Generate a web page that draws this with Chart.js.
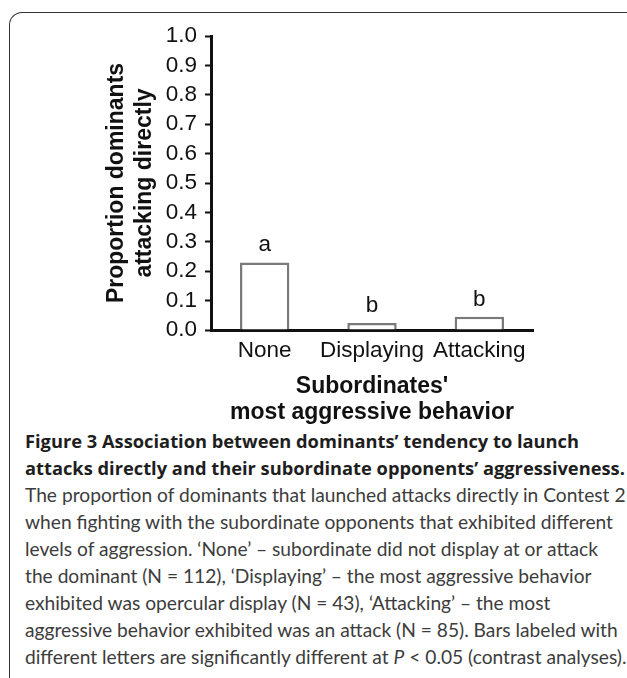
<!DOCTYPE html>
<html>
<head>
<meta charset="utf-8">
<script src="https://cdn.jsdelivr.net/npm/chart.js@4.4.1/dist/chart.umd.min.js"></script>
<style>
  html, body { margin: 0; padding: 0; background: #fff; overflow: hidden; }
  body { width: 627px; height: 678px; position: relative; }
  #frame {
    position: absolute; left: 9px; top: 12px; width: 640px; height: 700px;
    border-left: 1.5px solid #333; border-top: 1.5px solid #333;
    border-top-left-radius: 13px; box-sizing: border-box;
  }
  #chartBox { position: absolute; left: 0; top: 0; width: 627px; height: 425px; }
  #caption {
    position: absolute; left: 25px; top: 427px;
    font-family: Lato, "Open Sans", sans-serif; font-size: 19.2px; line-height: 27px;
    color: #3c3c3c; white-space: nowrap;
  }
  #caption b { color: #1e1e1e; font-family: "Open Sans", Lato, sans-serif; font-size: 18.3px; font-weight: 700; }
</style>
</head>
<body>
<div id="frame"></div>
<div id="chartBox"><canvas id="myChart"></canvas></div>
<div id="caption">
  <div><b>Figure 3 Association between dominants’ tendency to launch</b></div>
  <div><b>attacks directly and their subordinate opponents’ aggressiveness.</b></div>
  <div>The proportion of dominants that launched attacks directly in Contest 2</div>
  <div>when fighting with the subordinate opponents that exhibited different</div>
  <div>levels of aggression. ‘None’ – subordinate did not display at or attack</div>
  <div>the dominant (N = 112), ‘Displaying’ – the most aggressive behavior</div>
  <div>exhibited was opercular display (N = 43), ‘Attacking’ – the most</div>
  <div>aggressive behavior exhibited was an attack (N = 85). Bars labeled with</div>
  <div>different letters are significantly different at <i>P</i> &lt; 0.05 (contrast analyses).</div>
</div>
<script>
const categories = ['None', 'Displaying', 'Attacking'];
const proportions = [0.23, 0.024, 0.045];
const letters = ['a', 'b', 'b'];

const letterPlugin = {
    id: 'letters',
    afterDatasetsDraw(chart) {
        const ctx = chart.ctx;
        const meta = chart.getDatasetMeta(0);
        ctx.save();
        ctx.font = '22.5px "Liberation Sans", Arial, sans-serif';
        ctx.fillStyle = '#111';
        ctx.textAlign = 'center';
        ctx.textBaseline = 'alphabetic';
        meta.data.forEach((bar, i) => {
            ctx.fillText(letters[i], bar.x, bar.y - 11);
        });
        ctx.restore();
    }
};

let ctx = document.getElementById('myChart');
const myChart = new Chart(ctx, {
    type: 'bar',
    data: {
        labels: categories,
        datasets: [{
            data: proportions,
            backgroundColor: '#ffffff',
            borderColor: '#7a7a7a',
            borderWidth: 2.5,
            barPercentage: 0.46,
            categoryPercentage: 1
        }]
    },
    options: {
        responsive: true,
        maintainAspectRatio: false,
        animation: false,
        layout: {
            padding: { top: 36, right: 94, bottom: 0, left: 0 }
        },
        plugins: {
            legend: { display: false },
            tooltip: { enabled: false }
        },
        scales: {
            y: {
                min: 0,
                max: 1,
                afterFit(scale) { scale.width = 211; },
                ticks: {
                    stepSize: 0.1,
                    autoSkip: false,
                    callback: v => v.toFixed(1),
                    font: { family: '"Liberation Sans", Arial, sans-serif', size: 22.5 },
                    color: '#111',
                    padding: 8
                },
                grid: {
                    drawOnChartArea: false,
                    tickLength: 6,
                    tickWidth: 2,
                    tickColor: '#111'
                },
                border: { color: '#111', width: 3 },
                title: {
                    display: true,
                    text: ['Proportion dominants', 'attacking directly'],
                    font: { family: '"Liberation Sans", Arial, sans-serif', size: 23, weight: 'bold' },
                    color: '#111',
                    padding: { top: 103, bottom: 0 }
                }
            },
            x: {
                afterFit(scale) { scale.height = 95; },
                ticks: {
                    autoSkip: false,
                    maxRotation: 0,
                    minRotation: 0,
                    font: { family: '"Liberation Sans", Arial, sans-serif', size: 22.5 },
                    color: '#111',
                    padding: 7
                },
                grid: { display: false, drawTicks: false },
                border: { color: '#111', width: 3 },
                title: {
                    display: true,
                    text: ["Subordinates'", 'most aggressive behavior'],
                    font: { family: '"Liberation Sans", Arial, sans-serif', size: 23, weight: 'bold', lineHeight: 1.1 },
                    color: '#111',
                    padding: { top: 8, bottom: 0 }
                }
            }
        }
    },
    plugins: [letterPlugin]
});
</script>
</body>
</html>
